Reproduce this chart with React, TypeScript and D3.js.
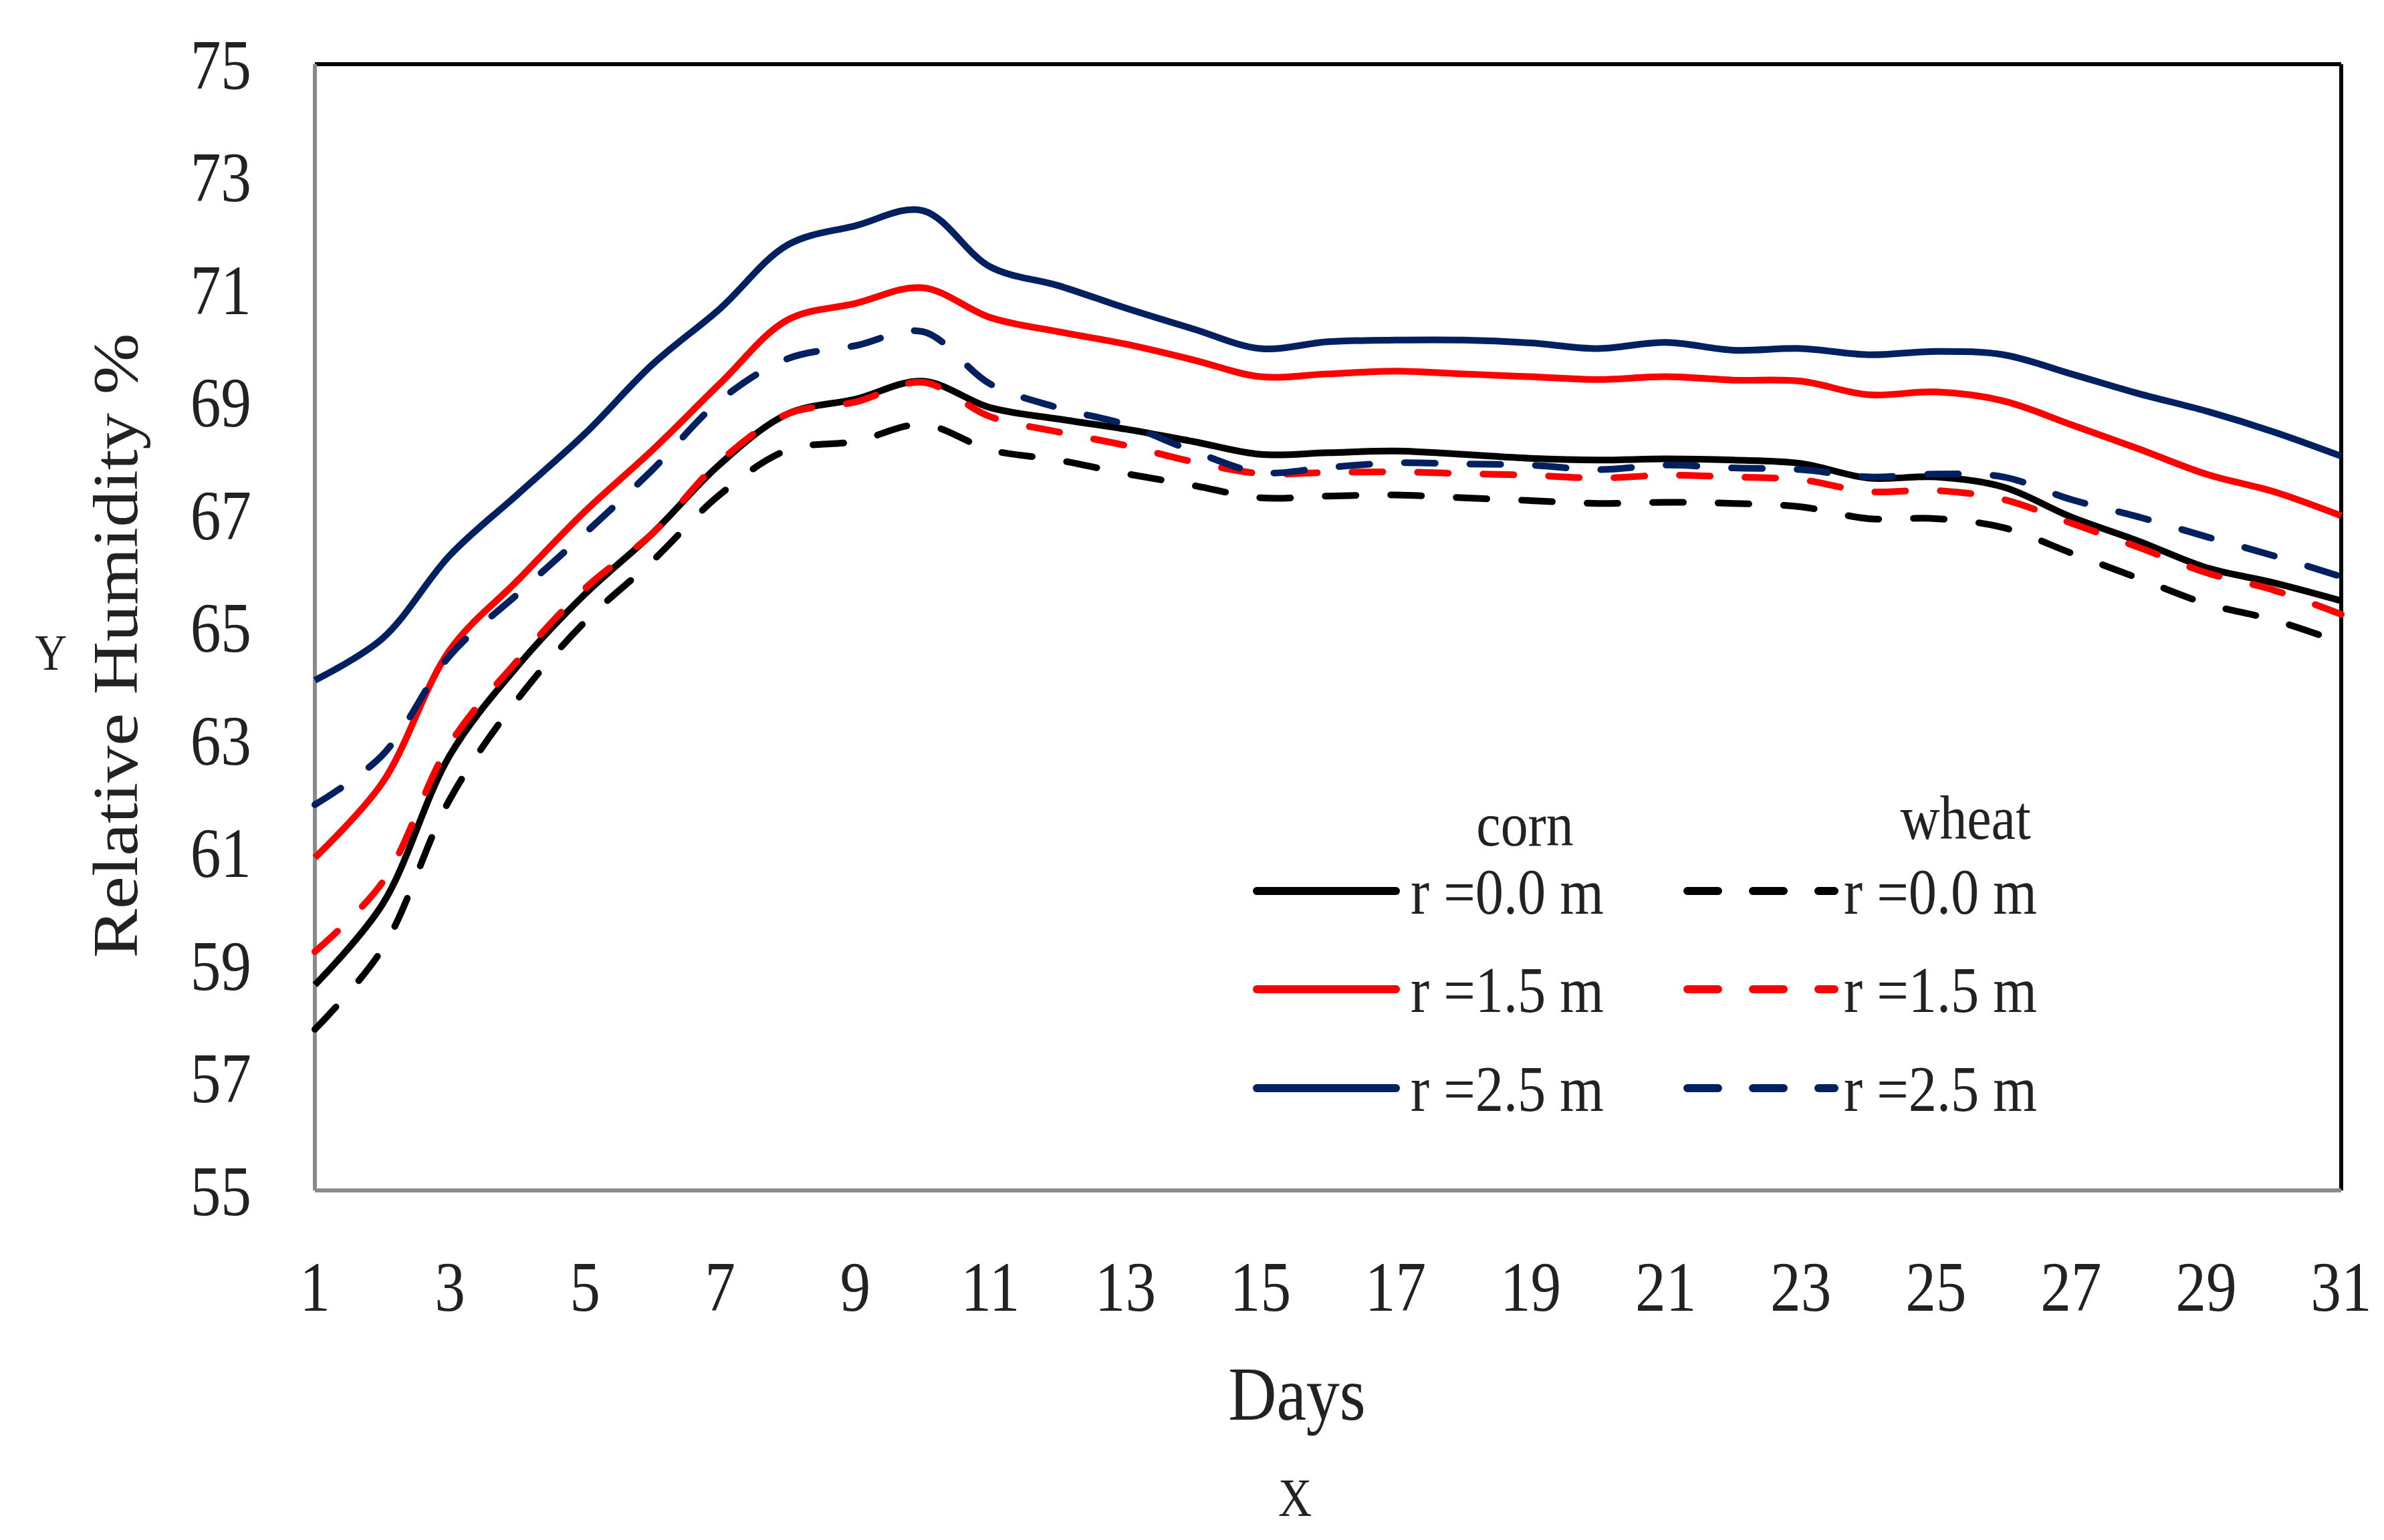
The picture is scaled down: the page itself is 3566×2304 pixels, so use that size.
import React from 'react';
import * as d3 from 'd3';

// days on the x axis
const days = d3.range(1, 32);

// corn (solid lines)
const cornR00 = [58.65, 60.08, 62.73, 64.31, 65.59, 66.67, 67.9, 68.79, 69.05, 69.37, 68.9, 68.7, 68.52, 68.3, 68.07, 68.1, 68.13, 68.07, 68.0, 67.97, 67.99, 67.97, 67.91, 67.65, 67.67, 67.49, 66.96, 66.53, 66.06, 65.79, 65.47];
const cornR15 = [60.91, 62.24, 64.6, 65.83, 67.06, 68.15, 69.33, 70.46, 70.75, 71.03, 70.5, 70.25, 70.03, 69.75, 69.45, 69.5, 69.55, 69.5, 69.45, 69.4, 69.45, 69.39, 69.37, 69.13, 69.18, 69.02, 68.6, 68.17, 67.72, 67.41, 66.98];
const cornR25 = [64.06, 64.8, 66.28, 67.36, 68.44, 69.67, 70.66, 71.79, 72.13, 72.4, 71.4, 71.07, 70.67, 70.3, 69.95, 70.07, 70.1, 70.1, 70.05, 69.95, 70.06, 69.92, 69.95, 69.84, 69.9, 69.84, 69.5, 69.15, 68.84, 68.47, 68.04];

// wheat (dashed lines)
const wheatR00 = [57.86, 59.29, 61.95, 63.72, 65.1, 66.18, 67.36, 68.15, 68.3, 68.6, 68.15, 67.97, 67.73, 67.52, 67.3, 67.33, 67.35, 67.3, 67.25, 67.2, 67.22, 67.2, 67.14, 66.93, 66.93, 66.77, 66.32, 65.87, 65.42, 65.13, 64.73];
const wheatR15 = [59.24, 60.47, 62.93, 64.41, 65.69, 66.67, 67.95, 68.79, 69.0, 69.35, 68.74, 68.47, 68.23, 67.94, 67.73, 67.75, 67.76, 67.73, 67.7, 67.65, 67.7, 67.67, 67.62, 67.41, 67.43, 67.27, 66.85, 66.42, 65.97, 65.66, 65.23];
const wheatR25 = [61.85, 62.73, 64.5, 65.59, 66.67, 67.8, 69.03, 69.77, 70.0, 70.25, 69.32, 68.9, 68.6, 68.13, 67.75, 67.84, 67.92, 67.9, 67.88, 67.8, 67.88, 67.83, 67.8, 67.67, 67.72, 67.67, 67.27, 66.96, 66.61, 66.27, 65.9];

const radiusLabels = ['r =0.0 m', 'r =1.5 m', 'r =2.5 m'];
const yTicks = d3.range(55, 76, 2);
const xTicks = d3.range(1, 32, 2);

const W = 3566;
const H = 2304;
const margin = { top: 96, right: 64, bottom: 523, left: 471 };
const FONT = '"Liberation Serif", "Times New Roman", serif';
const SQ = 0.87; // the source picture is a bit narrow horizontally

const colors = ['#000000', '#ff0000', '#002060'];
const DASH = '46 52';

const App: React.FC = () => {
  const x = d3.scaleLinear().domain([1, 31]).range([margin.left, W - margin.right]);
  const y = d3.scaleLinear().domain([55, 75]).range([H - margin.bottom, margin.top]);

  const line = d3.line<number>()
    .x((_, i) => x(days[i]))
    .y(d => y(d))
    .curve(d3.curveCatmullRom.alpha(0.5));

  const corn = [cornR00, cornR15, cornR25];
  const wheat = [wheatR00, wheatR15, wheatR25];

  const txt = (tx: number, ty: number) => `translate(${tx},${ty}) scale(${SQ},1)`;

  const [x0, x1] = x.range();
  const [y0, y1] = y.range();

  // legend rows
  const legRows = [1333, 1480, 1628];

  return (
    <svg width={W} height={H} style={{ position: 'absolute', left: 0, top: 0, display: 'block' }} fontFamily={FONT}>
      <rect width={W} height={H} fill="#fff" />

      {/* frame */}
      <line x1={x0} x2={x1} y1={y1} y2={y1} stroke="#000" strokeWidth={6} />
      <line x1={x1} x2={x1} y1={y1} y2={y0} stroke="#000" strokeWidth={6} />
      <line x1={x0} x2={x0} y1={y1} y2={y0} stroke="#8a8a8a" strokeWidth={6} />
      <line x1={x0} x2={x1} y1={y0} y2={y0} stroke="#8a8a8a" strokeWidth={6} />

      {/* y ticks */}
      {yTicks.map(t => (
        <text key={`y${t}`} transform={txt(376, y(t))} dy="0.35em" textAnchor="end" fontSize={105} fill="#222">{t}</text>
      ))}
      {/* x ticks */}
      {xTicks.map(t => (
        <text key={`x${t}`} transform={txt(x(t), 1924)} dy="0.35em" textAnchor="middle" fontSize={105} fill="#222">{t}</text>
      ))}

      {/* axis titles */}
      <text transform={txt(1940, 2084)} dy="0.35em" textAnchor="middle" fontSize={115} fill="#222">Days</text>
      <text transform={txt(1937, 2240)} dy="0.35em" textAnchor="middle" fontSize={80} fill="#222">X</text>
      <text transform={`translate(171,966) scale(${SQ},1) rotate(-90)`} dy="0.35em" textAnchor="middle" fontSize={110} fill="#222">Relative Humidity %</text>
      <text transform={txt(76, 975)} dy="0.35em" textAnchor="middle" fontSize={76} fill="#222">Y</text>

      {/* series: corn solid, then wheat dashed on top */}
      {corn.map((s, i) => (
        <path key={`c${i}`} d={line(s) || ''} fill="none" stroke={colors[i]} strokeWidth={10} strokeLinejoin="round" />
      ))}
      {wheat.map((s, i) => (
        <path key={`w${i}`} d={line(s) || ''} fill="none" stroke={colors[i]} strokeWidth={10} strokeDasharray={DASH} strokeLinecap="round" />
      ))}

      {/* legend */}
      <text transform={txt(2281, 1232)} dy="0.35em" textAnchor="middle" fontSize={94} fill="#222">corn</text>
      <text transform={txt(2940, 1222)} dy="0.35em" textAnchor="middle" fontSize={94} fill="#222">wheat</text>
      {radiusLabels.map((lab, i) => (
        <g key={`l${i}`}>
          <line x1={1880} x2={2088} y1={legRows[i]} y2={legRows[i]} stroke={colors[i]} strokeWidth={12} strokeLinecap="round" />
          <text transform={txt(2110, legRows[i])} dy="0.35em" fontSize={97} fill="#222">{lab}</text>
          <line x1={2524} x2={2744} y1={legRows[i]} y2={legRows[i]} stroke={colors[i]} strokeWidth={12} strokeDasharray={DASH} strokeLinecap="round" />
          <text transform={txt(2758, legRows[i])} dy="0.35em" fontSize={97} fill="#222">{lab}</text>
        </g>
      ))}
    </svg>
  );
};

export default App;
